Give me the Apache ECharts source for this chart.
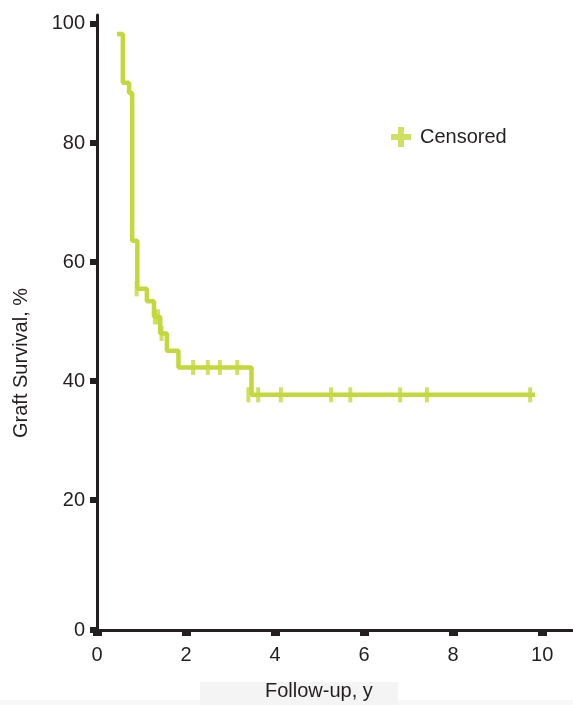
<!DOCTYPE html>
<html>
<head>
<meta charset="utf-8">
<script src="https://cdn.jsdelivr.net/npm/echarts@6/dist/echarts.min.js"></script>
<style>html,body{margin:0;padding:0;background:#fff}#c{width:573px;height:705px}</style>
</head>
<body>
<div id="c"></div>
<script>
// Kaplan-Meier step curve (time in years, survival %)
var kmTimes = [0.45, 0.58, 0.72, 0.79, 0.906, 1.12, 1.28, 1.42, 1.57, 1.83, 3.47, 9.84];
var kmSurv  = [98.3, 90.1, 88.4, 63.6, 55.5, 53.4, 50.8, 48.0, 45.1, 42.3, 37.7, 37.7];
// Censored observations
var censTimes = [0.89, 1.30, 1.37, 1.45, 2.16, 2.49, 2.76, 3.15, 3.40, 3.62, 4.13, 5.26, 5.69, 6.81, 7.41, 9.73];
var censSurv  = [55.5, 50.8, 50.8, 48.0, 42.3, 42.3, 42.3, 42.3, 37.7, 37.7, 37.7, 37.7, 37.7, 37.7, 37.7, 37.7];
var xTicks = [0, 2, 4, 6, 8, 10];
var yTicks = [0, 20, 40, 60, 80, 100];

var GREEN = '#c3d83c';
var INK = '#231f20';
var FONT = '"Liberation Sans", Arial, sans-serif';

var kmData = kmTimes.map(function (t, i) { return [t, kmSurv[i]]; });
var censData = censTimes.map(function (t, i) { return [t, censSurv[i]]; });
var Y_MIN = -1.8;
var yTickVals = yTicks.map(function (v) { return v === 0 ? Y_MIN : v; });

var chart = echarts.init(document.getElementById('c'), null, {renderer: 'canvas'});
chart.setOption({
  backgroundColor: '#fff',
  animation: false,
  grid: {left: 97, right: 1, top: 15, bottom: 75, containLabel: false},
  xAxis: {
    type: 'value', min: 0, max: 10.67,
    axisLine: {show: true, onZero: false, lineStyle: {color: INK, width: 3}},
    axisTick: {show: true, customValues: xTicks, length: 6, lineStyle: {color: INK, width: 9}},
    axisLabel: {customValues: xTicks, margin: 15, fontSize: 20, color: INK, fontFamily: FONT},
    splitLine: {show: false}
  },
  yAxis: {
    type: 'value', min: Y_MIN, max: 101.5,
    axisLine: {show: true, lineStyle: {color: INK, width: 3}},
    axisTick: {show: true, customValues: yTickVals, length: 7, lineStyle: {color: INK, width: 6}},
    axisLabel: {customValues: yTickVals, margin: 12, fontSize: 20, color: INK, fontFamily: FONT,
      formatter: function (v) { return v < 1 ? '0' : String(Math.round(v)); }},
    splitLine: {show: false}
  },
  legend: {
    data: [{name: 'Censored', icon: 'path://M7,0H13V7H20V13H13V20H7V13H0V7H7Z'}],
    left: 386, top: 122, itemWidth: 20, itemHeight: 20, itemGap: 6,
    textStyle: {fontSize: 20, color: INK, fontFamily: FONT, padding: [0, 0, 0, 4]}
  },
  graphic: [
    {type: 'rect', left: 200, top: 682, shape: {width: 198, height: 23}, style: {fill: '#f4f4f4'}, z: -10},
    {type: 'rect', left: 0, top: 700, shape: {width: 573, height: 5}, style: {fill: '#f8f8f8'}, z: -11},
    {type: 'text', left: 265, top: 681,
      style: {text: 'Follow-up, y', fontSize: 20, fill: INK, fontFamily: FONT}},
    {type: 'text', x: 11, y: 438, rotation: Math.PI / 2,
      style: {text: 'Graft Survival, %', fontSize: 20, fill: INK, fontFamily: FONT}}
  ],
  series: [
    {
      name: 'KM', type: 'line', step: 'end', data: kmData,
      showSymbol: false, symbol: 'none',
      lineStyle: {color: GREEN, width: 4.5}, z: 3
    },
    {
      name: 'Censored', type: 'scatter', data: censData,
      symbol: 'rect', symbolSize: [4, 15],
      itemStyle: {color: GREEN}, z: 4
    }
  ]
});
</script>
</body>
</html>
